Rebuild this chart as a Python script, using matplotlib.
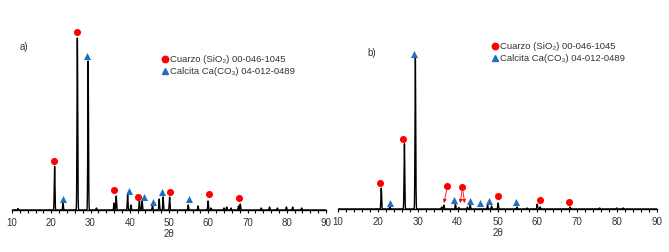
import numpy as np
import matplotlib
matplotlib.use("Agg")
import matplotlib.pyplot as plt
from matplotlib.lines import Line2D

plt.rcParams['font.family'] = ['Liberation Sans', 'DejaVu Sans']

# ---- data (intensity in arbitrary units) ----
# panel a peaks
a_pos = [11.5, 20.85, 23.0, 26.65, 29.4, 31.5, 36.0, 36.55, 39.45, 40.3, 42.45, 43.15,
         45.8, 47.5, 48.5, 50.15, 54.9, 57.4, 59.95, 60.7, 64.0, 64.7, 65.8, 67.7, 68.15,
         73.5, 75.6, 77.6, 79.9, 81.5, 83.8]
a_int = [1.5, 44, 7, 173, 149, 2, 7, 14, 15, 5, 9, 9,
         5, 11, 13, 13, 5, 4, 9, 2, 2, 3, 2, 4, 6,
         2, 3, 2, 3, 3, 2]
# panel b peaks
b_pos = [20.85, 23.0, 26.65, 29.4, 36.0, 36.55, 39.45, 40.3, 42.45, 43.15, 47.5, 48.5,
         50.15, 54.9, 57.4, 59.95, 60.7, 68.2, 75.6, 79.9, 81.5]
b_int = [21, 2, 66, 152, 2, 4, 5, 1.5, 2, 4, 4, 3,
         6, 2, 1, 5, 2, 2, 1, 1, 1]

# phase markers
a_q_x = [20.8, 26.55, 35.9, 42.0, 50.3, 60.2, 67.9]
a_q_y = [49, 178, 20, 13, 18, 16, 12]
a_c_x = [23.0, 29.2, 39.9, 43.7, 45.8, 48.2, 55.0]
a_c_y = [11, 154, 19, 13, 8, 18, 11]

b_q_x = [20.55, 26.4, 37.4, 41.2, 50.0, 60.7, 67.95]
b_q_y = [26, 70, 23, 22, 13, 9, 7]
b_c_x = [23.0, 29.1, 39.1, 43.2, 45.6, 47.8, 54.6]
b_c_y = [6, 156, 9, 8, 6, 8, 7]
# arrows in panel b: (from marker x, y) -> (target x, y)
b_arrow_from = [(37.4, 23), (41.2, 22), (41.2, 22)]
b_arrow_to = [(36.6, 6), (40.65, 6), (41.75, 6)]

legend_labels = ['Cuarzo (SiO₂) 00-046-1045', 'Calcita Ca(CO₃) 04-012-0489']
panel_labels = ['a)', 'b)']

RED = '#ff0000'
BLUE = '#1f6fc0'

W, H = 669, 252
fig = plt.figure(figsize=(W / 100, H / 100), dpi=100)


def profile(pos, inten):
    x = np.arange(10, 90.001, 0.02)
    y = np.zeros_like(x)
    for p, h in zip(pos, inten):
        y += h * np.exp(-0.5 * ((x - p) / 0.09) ** 2)
    return x, y


def make_ax(left_px, right_px, base_px):
    top_px = 20
    return fig.add_axes([left_px / W, (H - base_px) / H,
                         (right_px - left_px) / W, (base_px - top_px) / H])


panels = [
    (make_ax(12, 326, 210), a_pos, a_int, a_q_x, a_q_y, a_c_x, a_c_y, (20, 47), (166, 62)),
    (make_ax(338, 657, 209), b_pos, b_int, b_q_x, b_q_y, b_c_x, b_c_y, (367, 53), (496, 49)),
]

for i, (ax, pos, inten, qx, qy, cx, cy, lab_xy, leg_xy) in enumerate(panels):
    x, y = profile(pos, inten)
    ax.plot(x, y, color='black', lw=1.0, zorder=2)
    ax.scatter(qx, qy, s=26, color=RED, marker='o', zorder=3, linewidths=0)
    ax.scatter(cx, cy, s=26, color=BLUE, marker='^', zorder=3, linewidths=0)
    ax.set_xlim(10, 90)
    ax.set_ylim(0, 190)
    for s in ['top', 'right', 'left']:
        ax.spines[s].set_visible(False)
    ax.spines['bottom'].set_linewidth(1.0)
    ax.set_yticks([])
    ax.set_xticks(np.arange(10, 91, 10))
    ax.set_xticks(np.arange(10, 91, 2), minor=True)
    ax.tick_params(axis='x', which='both', length=2.5, width=0.8, direction='out',
                   labelsize=7, pad=3.5, colors='black', labelcolor='#333333')
    ax.set_xlabel('2θ', fontsize=7, labelpad=0.5, color='#333333')
    ax.patch.set_alpha(0)
    fig.text(lab_xy[0] / W, 1 - lab_xy[1] / H, panel_labels[i], fontsize=7,
             color='#333333', va='center', ha='left')
    handles = [Line2D([], [], marker='o', color=RED, ls='', markersize=4.6),
               Line2D([], [], marker='^', color=BLUE, ls='', markersize=4.6)]
    ax.legend(handles, legend_labels, loc='upper left', frameon=False,
              bbox_to_anchor=((leg_xy[0] - 4) / W, 1 - (leg_xy[1] - 7) / H),
              bbox_transform=fig.transFigure, fontsize=6.8, handlelength=0.6,
              handletextpad=0.3, borderpad=0, borderaxespad=0, labelspacing=0.35,
              labelcolor='#333333')

ax_b = panels[1][0]
for (fx, fy), (tx, ty) in zip(b_arrow_from, b_arrow_to):
    ax_b.annotate('', xy=(tx, ty), xytext=(fx, fy),
                  arrowprops=dict(arrowstyle='-|>', color=RED, lw=0.6,
                                  mutation_scale=5, shrinkA=3, shrinkB=0))

fig.savefig('out.png', dpi=100)
